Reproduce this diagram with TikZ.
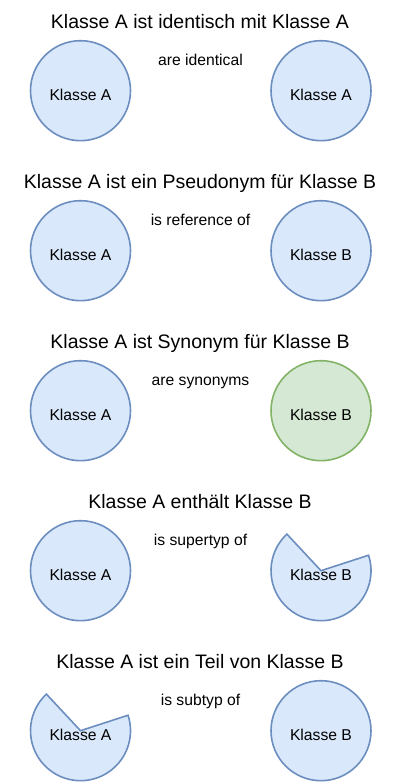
\documentclass[tikz,border=0pt]{standalone}
\usepackage{fontspec}
\setmainfont{Liberation Sans}
\usepackage{tikz}

\definecolor{bluefill}{HTML}{DAE8FC}
\definecolor{blueline}{HTML}{6C8EBF}
\definecolor{greenfill}{HTML}{D5E8D4}
\definecolor{greenline}{HTML}{82B366}

\begin{document}
\begin{tikzpicture}[x=1pt,y=1pt,
  klasse/.style={circle,draw=blueline,fill=bluefill,line width=1.6pt,minimum size=100pt,inner sep=0pt,
    font=\fontsize{15.7}{18}\selectfont,text height=19pt,text depth=0pt},
  gruen/.style={klasse,draw=greenline,fill=greenfill},
  pie/.style={draw=blueline,fill=bluefill,line width=1.6pt},
  pietext/.style={inner sep=0pt,font=\fontsize{15.7}{18}\selectfont,text height=19pt,text depth=0pt},
  titel/.style={anchor=base,font=\fontsize{19.5}{22}\selectfont},
  rel/.style={anchor=base,font=\fontsize{15.7}{18}\selectfont}]
  \useasboundingbox (0,0) rectangle (404,784);
  % identisch
  \node[titel] (t1) at (200,755.5) {Klasse A ist identisch mit Klasse A};
  \node[rel] (r1) at (200.5,718.3) {are identical};
  \node[klasse] (a1) at (80.5,693.3) {Klasse A};
  \node[klasse] (b1) at (321,693.3) {Klasse A};
  % pseudonym
  \node[titel] (t2) at (200,595.5) {Klasse A ist ein Pseudonym für Klasse B};
  \node[rel] (r2) at (200.5,558.3) {is reference of};
  \node[klasse] (a2) at (80.5,533.3) {Klasse A};
  \node[klasse] (b2) at (321,533.3) {Klasse B};
  % synonym
  \node[titel] (t3) at (200,435.5) {Klasse A ist Synonym für Klasse B};
  \node[rel] (r3) at (200.5,398.3) {are synonyms};
  \node[klasse] (a3) at (80.5,373.3) {Klasse A};
  \node[gruen] (b3) at (321,373.3) {Klasse B};
  % supertyp
  \node[titel] (t4) at (200,275.5) {Klasse A enthält Klasse B};
  \node[rel] (r4) at (200.5,238.3) {is supertyp of};
  \node[klasse] (a4) at (80.5,213.3) {Klasse A};
  \coordinate (cb4) at (321,213.3);
  \draw[pie] (cb4) -- ++(133:50) arc[start angle=133,end angle=378,radius=50] -- cycle;
  \node[pietext] (b4) at (cb4) {Klasse B};
  % subtyp
  \node[titel] (t5) at (200,115.5) {Klasse A ist ein Teil von Klasse B};
  \node[rel] (r5) at (200.5,78.3) {is subtyp of};
  \coordinate (ca5) at (80.5,53.3);
  \draw[pie] (ca5) -- ++(133:50) arc[start angle=133,end angle=378,radius=50] -- cycle;
  \node[pietext] (a5) at (ca5) {Klasse A};
  \node[klasse] (b5) at (321,53.3) {Klasse B};
\end{tikzpicture}
\end{document}
